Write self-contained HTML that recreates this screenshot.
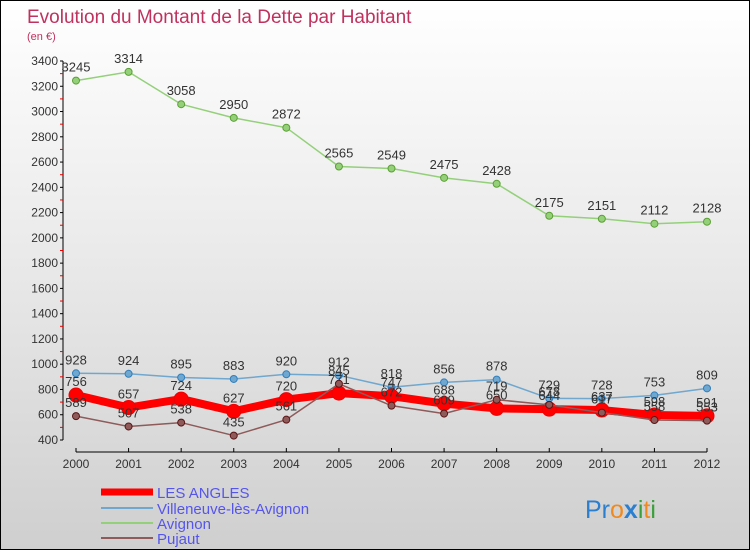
<!DOCTYPE html>
<html><head><meta charset="utf-8"><style>
body{margin:0}
#c{position:relative;width:748px;height:548px;border:1px solid #000;background:linear-gradient(#ffffff 0%,#e8e8e8 50%,#cfcfcf 100%);overflow:hidden;font-family:"Liberation Sans",sans-serif}
</style></head><body>
<div id="c">
<svg id="s" width="748" height="548">
<text x="26" y="22" font-size="19" fill="#c0315f" font-family="Liberation Sans,sans-serif">Evolution du Montant de la Dette par Habitant</text>
<text x="26" y="39" font-size="11" fill="#c0315f">(en €)</text>
<g id="axes"></g><g id="series"></g>
<g>
<line x1="100" y1="491" x2="152" y2="491" stroke="#f00" stroke-width="7"/>
<text x="156" y="497" font-size="15" fill="#5555ee">LES ANGLES</text>
<line x1="100" y1="507" x2="152" y2="507" stroke="#6fa7cf" stroke-width="2"/>
<text x="156" y="513" font-size="15" fill="#5555ee">Villeneuve-lès-Avignon</text>
<line x1="100" y1="522" x2="152" y2="522" stroke="#94d07a" stroke-width="2"/>
<text x="156" y="528" font-size="15" fill="#5555ee">Avignon</text>
<line x1="100" y1="537" x2="152" y2="537" stroke="#8e5a5a" stroke-width="2"/>
<text x="156" y="543" font-size="15" fill="#5555ee">Pujaut</text>
</g>
<text x="584" y="517" font-size="25"><tspan fill="#2a7fd0">Pr</tspan><tspan fill="#f08a1e">o</tspan><tspan fill="#2a7fd0" font-weight="bold">x</tspan><tspan fill="#3aa03a">i</tspan><tspan fill="#f08a1e">t</tspan><tspan fill="#3aa03a">i</tspan></text>
</svg></div>
<script>
const years=[2000,2001,2002,2003,2004,2005,2006,2007,2008,2009,2010,2011,2012];
const lesAngles=[756,657,724,627,720,771,747,688,650,644,637,598,591];
const villeneuve=[928,924,895,883,920,912,818,856,878,729,728,753,809];
const avignon=[3245,3314,3058,2950,2872,2565,2549,2475,2428,2175,2151,2112,2128];
const pujaut=[589,507,538,435,561,845,672,609,719,678,617,558,553];
const yTicks=[400,600,800,1000,1200,1400,1600,1800,2000,2200,2400,2600,2800,3000,3200,3400];
const NS="http://www.w3.org/2000/svg";
const xs=i=>75+i*(706-75)/12;
const ys=v=>439-(v-400)*(379/3000);
function mk(t,a,p){const e=document.createElementNS(NS,t);for(const k in a)e.setAttribute(k,a[k]);p.appendChild(e);return e;}
const ax=document.getElementById('axes'),sr=document.getElementById('series');
const yl=mk('line',{x1:62,y1:ys(3400),x2:62,y2:439,stroke:'#000'},ax);


const xl=mk('line',{x1:75,y1:451,x2:706,y2:451,stroke:'#000'},ax);


yTicks.forEach((v,k)=>{
  mk('line',{x1:59,y1:ys(v),x2:62,y2:ys(v),stroke:'#000'},ax);
  if(k<yTicks.length-1) mk('line',{x1:59,y1:ys(v+100),x2:62,y2:ys(v+100),stroke:'#e00'},ax);
  const t=mk('text',{x:57,y:ys(v)+4,'font-size':12,fill:'#333','text-anchor':'end'},ax);t.textContent=v;
  
  
});
years.forEach((y,i)=>{
  mk('line',{x1:xs(i),y1:447,x2:xs(i),y2:451,stroke:'#000'},ax);
  const t=mk('text',{x:xs(i),y:467,'font-size':12,fill:'#333','text-anchor':'middle'},ax);t.textContent=y;
  
  
});
function draw(data,color,w,r,name,stroke){
  const g=mk('g',{},sr);
  
  
  mk('polyline',{points:data.map((v,i)=>xs(i)+','+ys(v)).join(' '),fill:'none',stroke:color,'stroke-width':w,'stroke-linejoin':'round'},g);
  data.forEach((v,i)=>{
    const c=mk('circle',{cx:xs(i),cy:ys(v),r:r,fill:color,stroke:stroke,'stroke-width':1},g);
    
    
    const t=mk('text',{x:xs(i),y:ys(v)-9,'font-size':13,fill:'#333','text-anchor':'middle'},g);t.textContent=v;
    
    
  });
}
draw(avignon,'#94d07a',1.5,3.5,'series-avignon','#5aa032');
draw(villeneuve,'#6fa7cf',1.5,3.5,'series-villeneuve','#2f7fbf');
draw(lesAngles,'#f00',8,7,'series-les-angles','#e00');
draw(pujaut,'#8e5a5a',1.5,3.5,'series-pujaut','#5a1515');
</script>
</body></html>
